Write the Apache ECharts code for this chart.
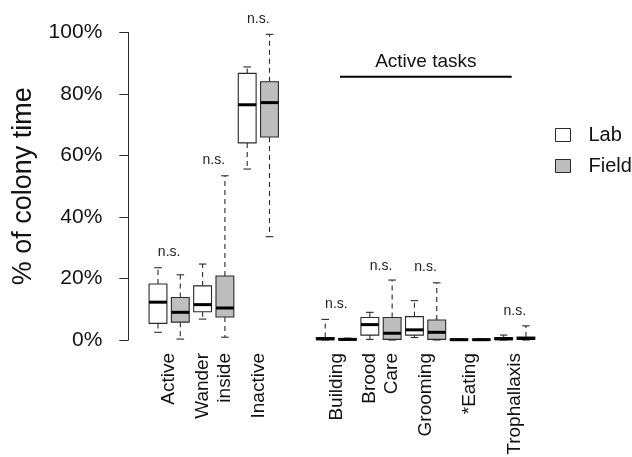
<!DOCTYPE html>
<html>
<head>
<meta charset="utf-8">
<script src="https://cdn.jsdelivr.net/npm/echarts@6/dist/echarts.min.js"></script>
<style>html,body{margin:0;padding:0;background:#fff}#c{width:632px;height:457px}</style>
</head>
<body>
<div id="c"></div>
<script>
// ---- data ----
const categories = ['Active', 'Wander\ninside', 'Inactive', 'Building', 'Brood\nCare', 'Grooming', '*Eating', 'Trophallaxis'];
const groupCenters = [0.5, 2.5, 4.5, 8, 10, 12, 14, 16];
// [lower whisker, Q1, median, Q3, upper whisker] in %
const labStats = [
  [2.5, 5.4, 12.3, 18.2, 23.5],
  [6.8, 9.2, 11.5, 17.6, 24.7],
  [55.6, 64.1, 76.5, 86.7, 88.8],
  [0, 0.1, 0.4, 0.8, 6.7],
  [0.2, 1.6, 5.0, 7.3, 9.0],
  [0.8, 1.6, 3.3, 7.6, 12.8],
  [0, 0, 0.1, 0.3, 0.3],
  [0, 0.1, 0.4, 0.8, 1.6]
];
const fieldStats = [
  [0.3, 5.8, 9.0, 13.8, 21.2],
  [0.9, 7.5, 10.4, 20.8, 53.4],
  [33.6, 66.0, 77.2, 84.0, 99.4],
  [0, 0, 0.2, 0.5, 0.6],
  [0, 0.2, 2.2, 7.3, 19.5],
  [0, 0.2, 2.5, 6.5, 18.6],
  [0, 0, 0.1, 0.3, 0.3],
  [0, 0.2, 0.5, 1.0, 4.6]
];
const sigText = ['n.s.', 'n.s.', 'n.s.', 'n.s.', 'n.s.', 'n.s.', '', 'n.s.'];
const sigHeight = [28.6, 58.5, 104.4, 11.7, 24, 23.7, 0, 9.4];
const yTicks = [0, 20, 40, 60, 80, 100];
const bracketLabel = 'Active tasks';

// ---- layout / style ----
const FONT = '"Liberation Sans", Arial, Helvetica, sans-serif';
const TXT = '#111';
const EDGE = '#2a2a2a';
const LAB_FILL = '#ffffff';
const FIELD_FILL = '#bebebe';
const HALF_BOX = 0.4, HALF_CAP = 0.17;
const bracket = { x0: 8.16, x1: 15.86, y: 85.6, textY: 90.4 };

function boxData(stats, offset) {
  return stats.map((s, i) => [groupCenters[i] + offset].concat(s));
}

function boxRender(fill) {
  return function (params, api) {
    const x = api.value(0);
    const lo = api.value(1), q1 = api.value(2), md = api.value(3), q3 = api.value(4), hi = api.value(5);
    const tl = api.coord([x - HALF_BOX, q3]);
    const br = api.coord([x + HALF_BOX, q1]);
    const c = api.coord([x, 0])[0];
    const yHi = api.coord([x, hi])[1], yLo = api.coord([x, lo])[1];
    const yMd = api.coord([x, md])[1];
    const capL = api.coord([x - HALF_CAP, 0])[0], capR = api.coord([x + HALF_CAP, 0])[0];
    const dash = { stroke: EDGE, lineWidth: 1.1, lineDash: [5, 4] };
    const solid = { stroke: EDGE, lineWidth: 1.1 };
    return {
      type: 'group',
      children: [
        { type: 'line', shape: { x1: c, y1: tl[1], x2: c, y2: yHi }, style: dash },
        { type: 'line', shape: { x1: c, y1: br[1], x2: c, y2: yLo }, style: dash },
        { type: 'line', shape: { x1: capL, y1: yHi, x2: capR, y2: yHi }, style: solid },
        { type: 'line', shape: { x1: capL, y1: yLo, x2: capR, y2: yLo }, style: solid },
        { type: 'rect', shape: { x: tl[0], y: tl[1], width: br[0] - tl[0], height: Math.max(br[1] - tl[1], 0.5) },
          style: { fill: fill, stroke: EDGE, lineWidth: 1.1 } },
        { type: 'line', shape: { x1: tl[0], y1: yMd, x2: br[0], y2: yMd }, style: { stroke: '#000', lineWidth: 3 } }
      ]
    };
  };
}

const sigData = groupCenters.map((c, i) => [c, sigHeight[i], sigText[i]]).filter(d => d[2]);

const chart = echarts.init(document.getElementById('c'), null, { renderer: 'canvas' });
chart.setOption({
  animation: false,
  backgroundColor: '#fff',
  grid: { left: 135.7, right: 83.75, top: 32.5, bottom: 117, containLabel: false, outerBoundsMode: 'none' },
  legend: {
    orient: 'vertical', left: 550, top: 120,
    itemWidth: 15, itemHeight: 13, itemGap: 11,
    icon: 'rect',
    textStyle: { fontFamily: FONT, fontSize: 20, color: TXT, padding: [0, 0, 0, 13] },
    data: [
      { name: 'Lab', itemStyle: { color: LAB_FILL, borderColor: EDGE, borderWidth: 1 } },
      { name: 'Field', itemStyle: { color: FIELD_FILL, borderColor: EDGE, borderWidth: 1 } }
    ]
  },
  xAxis: {
    type: 'value', min: -1, max: 17.5, interval: 0.5,
    axisLine: { show: false, onZero: false }, axisTick: { show: false }, splitLine: { show: false },
    axisLabel: {
      rotate: 90, margin: 13, fontFamily: FONT, fontSize: 19, color: TXT, lineHeight: 22,
      hideOverlap: false, showMinLabel: true, showMaxLabel: true,
      formatter: function (v) {
        const i = groupCenters.findIndex(c => Math.abs(c - v) < 1e-6);
        return i >= 0 ? categories[i] : '';
      }
    }
  },
  yAxis: {
    type: 'value', min: yTicks[0], max: yTicks[yTicks.length - 1], interval: 20,
    offset: 7.4,
    name: '% of colony time', nameLocation: 'middle', nameRotate: 90, nameGap: 91,
    nameTextStyle: { fontFamily: FONT, fontSize: 27, color: TXT },
    axisLine: { show: true, onZero: false, lineStyle: { color: EDGE, width: 1 } },
    axisTick: { show: true, length: 9, lineStyle: { color: EDGE } },
    splitLine: { show: false },
    axisLabel: { margin: 26, fontFamily: FONT, fontSize: 21, color: TXT, formatter: '{value}%' }
  },
  series: [
    {
      name: 'Lab', type: 'custom', clip: false,
      itemStyle: { color: LAB_FILL, borderColor: EDGE },
      encode: { x: 0, y: [1, 2, 3, 4, 5] },
      data: boxData(labStats, -0.5),
      renderItem: boxRender(LAB_FILL)
    },
    {
      name: 'Field', type: 'custom', clip: false,
      itemStyle: { color: FIELD_FILL, borderColor: EDGE },
      encode: { x: 0, y: [1, 2, 3, 4, 5] },
      data: boxData(fieldStats, 0.5),
      renderItem: boxRender(FIELD_FILL)
    },
    {
      name: 'sig', type: 'custom', clip: false, silent: true,
      encode: { x: 0, y: 1 },
      data: sigData,
      renderItem: function (params, api) {
        const p = api.coord([api.value(0), api.value(1)]);
        return { type: 'text', x: p[0], y: p[1],
          style: { text: sigData[params.dataIndex][2], fontFamily: FONT, fontSize: 14, fill: '#222', align: 'center', verticalAlign: 'middle' } };
      }
    },
    {
      name: 'bracket', type: 'custom', clip: false, silent: true,
      encode: { x: 0, y: 1 },
      data: [[bracket.x0, bracket.y]],
      renderItem: function (params, api) {
        const a = api.coord([bracket.x0, bracket.y]);
        const b = api.coord([bracket.x1, bracket.y]);
        const t = api.coord([(bracket.x0 + bracket.x1) / 2, bracket.textY]);
        return { type: 'group', children: [
          { type: 'line', shape: { x1: a[0], y1: a[1], x2: b[0], y2: b[1] }, style: { stroke: '#000', lineWidth: 2 } },
          { type: 'text', x: t[0], y: t[1], style: { text: bracketLabel, fontFamily: FONT, fontSize: 19, fill: TXT, align: 'center', verticalAlign: 'middle' } }
        ] };
      }
    }
  ]
});
</script>
</body>
</html>
